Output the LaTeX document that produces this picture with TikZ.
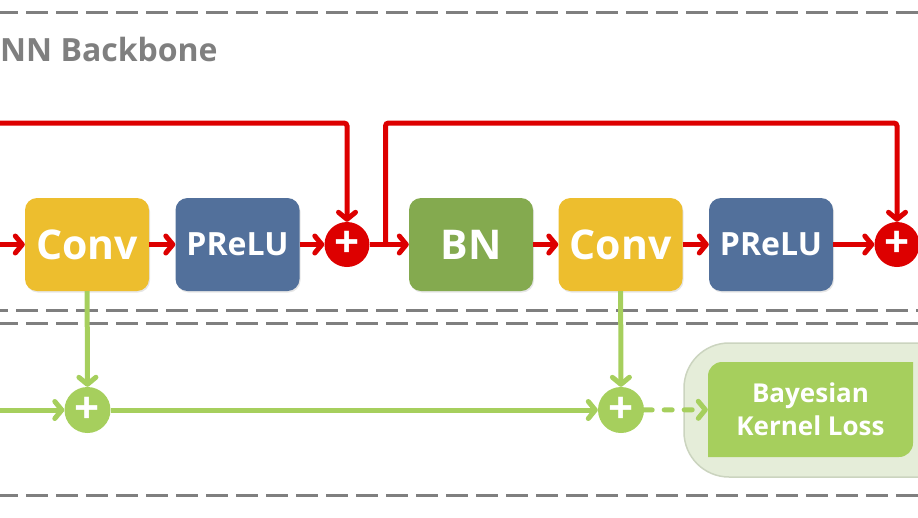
\documentclass[tikz,border=0pt]{standalone}
\usepackage{fontspec}
\setmainfont{Open Sans}
\usetikzlibrary{arrows.meta,shadows}
\definecolor{convyellow}{HTML}{EDBE2E}
\definecolor{relublue}{HTML}{52709B}
\definecolor{bngreen}{HTML}{84AA4F}
\definecolor{skipred}{HTML}{DD0000}
\definecolor{lightgreen}{HTML}{A6CF5D}
\definecolor{panelgreen}{HTML}{E5EDD9}
\definecolor{panelline}{HTML}{CBD4BF}
\definecolor{dashgray}{HTML}{7F7F7F}
\begin{document}
\begin{tikzpicture}[x=1pt,y=-1pt,
  >={Straight Barb[length=7pt,width=17pt,round]},
  block/.style={rectangle, rounded corners=12pt, minimum width=124pt, minimum height=93pt,
    text=white, font=\bfseries\fontsize{41}{41}\selectfont,
    drop shadow={shadow xshift=1pt, shadow yshift=-1.5pt, opacity=0.2}},
  addred/.style={circle, fill=skipred, minimum size=45pt, inner sep=0pt,
    text=white, font=\bfseries\fontsize{44}{44}\selectfont},
  addgreen/.style={circle, fill=lightgreen, minimum size=46pt, inner sep=0pt,
    text=white, font=\bfseries\fontsize{44}{44}\selectfont},
  redline/.style={draw=skipred, line width=5pt},
  greenline/.style={draw=lightgreen, line width=5pt},
  sep/.style={draw=dashgray, line width=3pt, dash pattern=on 22pt off 8pt}]
\useasboundingbox (0,0) rectangle (918,517);
\clip (0,0) rectangle (918,517);
% separators
\draw[sep] (-4,12.5) -- (930,12.5);
\draw[sep] (-14,310.5) -- (930,310.5);
\draw[sep] (-4,323.5) -- (930,323.5);
\draw[sep] (-4,495.5) -- (930,495.5);
\node[anchor=base west, inner sep=0pt, text=dashgray, font=\bfseries\fontsize{32}{32}\selectfont] (title) at (0,61) {NN Backbone};
% loss panel
\fill[panelgreen, draw=panelline, line width=1.5pt, rounded corners=45pt] (684,343) rectangle (980,477);
\fill[lightgreen] (708,457) -- (708,376) arc[start angle=180,end angle=270,radius=14]
  -- (913,362) -- (913,443) arc[start angle=0,end angle=90,radius=14] -- cycle;
% backbone
\node[block, fill=convyellow] (conv1) at (87,244.5) {Conv};
\node[block, fill=relublue, font=\bfseries\fontsize{32}{32}\selectfont] (relu1) at (237.5,244.5) {PReLU};
\node[addred] (add1) at (347,244.5) {+};
\node[block, fill=bngreen] (bn) at (471,244.5) {BN};
\node[block, fill=convyellow] (conv2) at (620.5,244.5) {Conv};
\node[block, fill=relublue, font=\bfseries\fontsize{32}{32}\selectfont] (relu2) at (771,244.5) {PReLU};
\node[addred] (add2) at (897,244.5) {+};
\coordinate (in) at (-10,244.5);
\coordinate (skipin) at (-10,123);
\coordinate (split) at (385.5,244.5);
\coordinate (skiptop) at (897,123);
\draw[redline, ->] (in) -- (conv1);
\draw[redline, ->] (conv1) -- (relu1);
\draw[redline, ->] (relu1) -- (add1);
\draw[redline, ->] (add1) -- (bn);
\draw[redline, ->] (bn) -- (conv2);
\draw[redline, ->] (conv2) -- (relu2);
\draw[redline, ->] (relu2) -- (add2);
\draw[redline, ->, rounded corners=3pt] (skipin) -| (add1);
\draw[redline, ->, rounded corners=3pt] (split) |- (skiptop) -- (add2);
% kernel branch
\node[addgreen] (gadd1) at (87.5,410) {+};
\node[addgreen] (gadd2) at (621,410) {+};
\node[minimum width=205pt, minimum height=95pt, text=white, align=center,
  font=\bfseries\fontsize{26}{33}\selectfont] (loss) at (810.5,409.5) {Bayesian\\Kernel Loss};
\coordinate (gin) at (-10,410);
\draw[greenline, ->] (conv1) -- (gadd1);
\draw[greenline, ->] (conv2) -- (gadd2);
\draw[greenline, ->] (gin) -- (gadd1);
\draw[greenline, ->] (gadd1) -- (gadd2);
\draw[greenline, ->, dash pattern=on 8pt off 12pt, line cap=round] (gadd2) -- (loss);
\end{tikzpicture}
\end{document}
